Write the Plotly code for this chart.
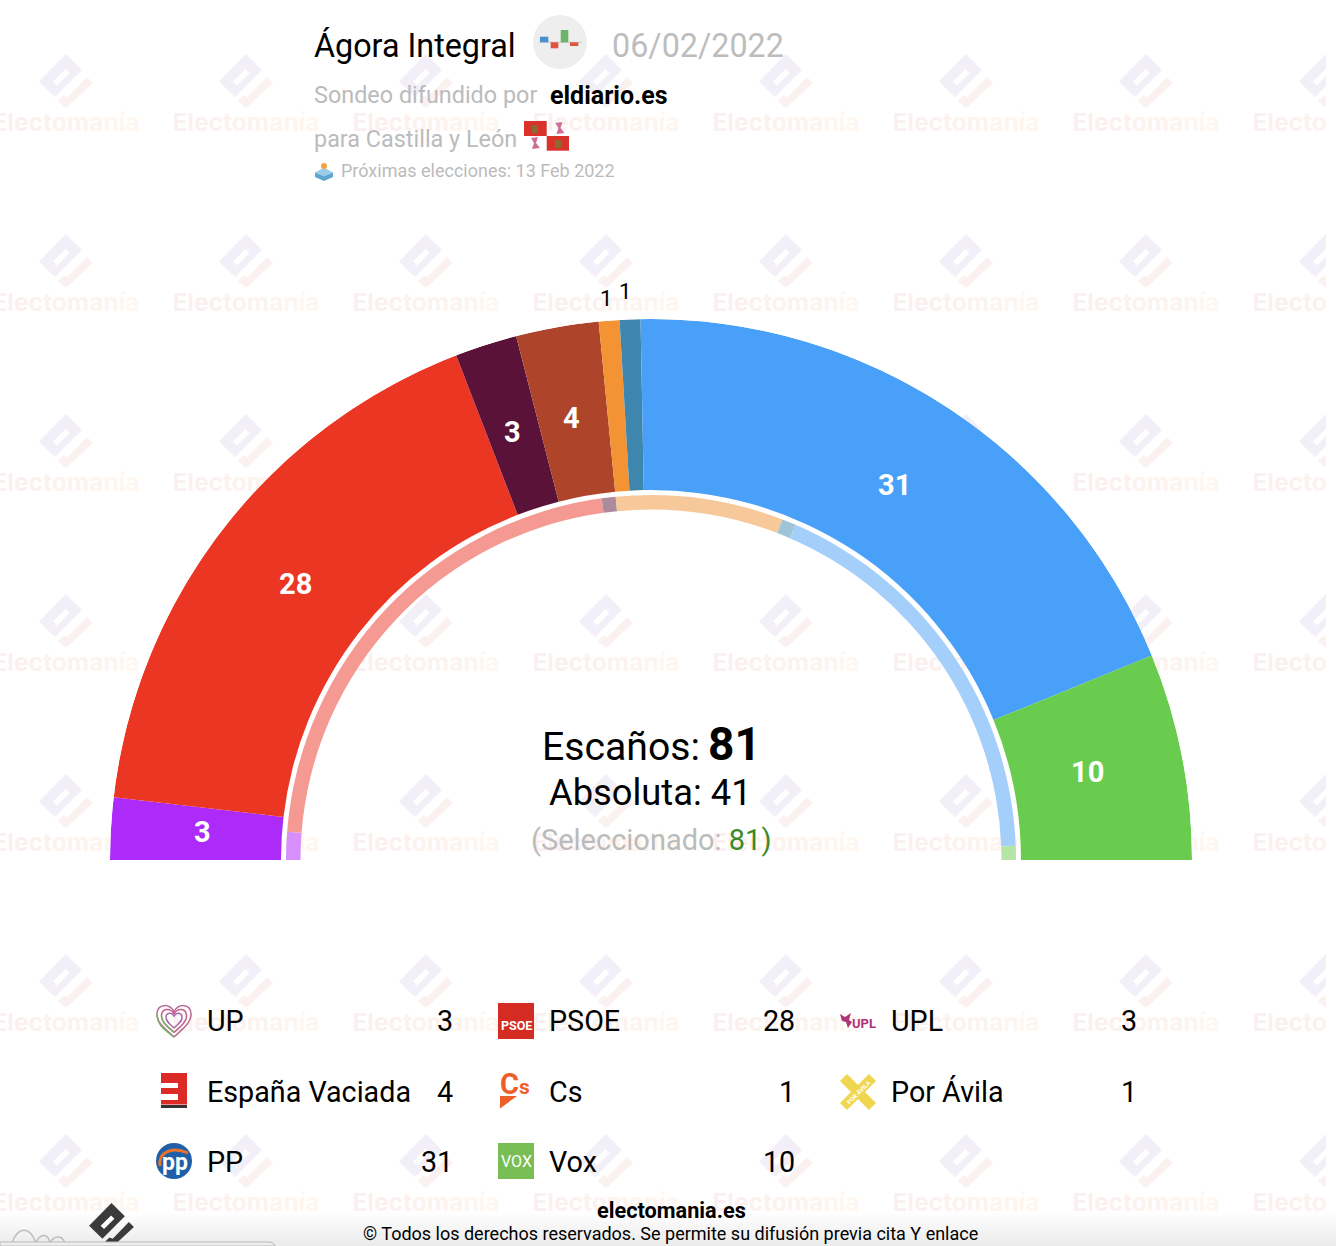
from __future__ import annotations

import numpy as np
import plotly.graph_objects as go

WIDTH = 1336
HEIGHT = 1246
PLOT_RIGHT = 1326
CENTER_X = 651
BASE_Y = 860
OUTER_R = 541
FONT = "Roboto"

PARTIES = ["UP", "PSOE", "UPL", "España Vaciada", "Cs", "Por Ávila", "PP", "Vox"]
SEATS = [3, 28, 3, 4, 1, 1, 31, 10]
PREVIOUS_SEATS = [2, 35, 1, 0, 12, 1, 29, 1]
COLORS = ["#AC2BF8", "#EC3624", "#5A1238", "#AE452B", "#F39333", "#3E86AE", "#48A0F8", "#69CC4E"]
RING_COLORS = ["#D68FFB", "#F49A92", "#AD8A9C", "#D6A295", "#F7C99A", "#9FC3D7", "#A4CFFB", "#B4E5A6"]

LEGEND_NAMES = ["UP", "PSOE", "UPL", "España Vaciada", "Cs", "Por Ávila", "PP", "Vox"]
LEGEND_SEATS = [3, 28, 3, 4, 1, 1, 31, 10]

WATERMARK_COLORS = [
    "#FBF0F1", "#FBF0F0", "#FBF0EF", "#FBF1EF", "#FCF1EF", "#FCF2EF",
    "#FCF3EF", "#FDF4EF", "#FDF5EF", "#FEF6EF", "#FEF7EF",
]
GREY = "#BBBBBB"


def arc_layout(values):
    values = np.array(values, dtype=float)
    scale = 180 / values.sum()
    starts = np.concatenate([[0], np.cumsum(values)[:-1]])
    return (starts + values / 2) * scale, values * scale


def poly(points):
    return "M" + " L".join(f"{x:.1f},{y:.1f}" for x, y in points) + " Z"


def filled(path, color, layer="above"):
    return dict(type="path", xref="x", yref="y", path=path, fillcolor=color,
                line=dict(width=0), layer=layer)


def block(x0, y0, x1, y1, color, layer="above"):
    return dict(type="rect", xref="x", yref="y", x0=x0, y0=y0, x1=x1, y1=y1,
                fillcolor=color, line=dict(width=0), layer=layer)


def logo_shapes(cx, top, scale, body, check, slot, layer):
    def pts(items):
        return [(cx + (x - 66) * scale, top + (y - 54) * scale) for x, y in items]

    return [
        filled(poly(pts([(66, 54), (82, 70), (55, 97), (39, 81.5)])), body, layer),
        filled(poly(pts([(53, 81.5), (65.5, 69), (69.5, 73), (57, 85.5)])), slot, layer),
        filled(poly(pts([(58, 101), (63.5, 95.5), (67.5, 97), (87, 77), (93, 83), (66, 108)])), check, layer),
    ]


def heart_path(cx, cy, size):
    s = size
    return (
        f"M{cx},{cy + s} C{cx - s * 0.6},{cy + s * 0.45} {cx - s * 1.05},{cy + s * 0.1} {cx - s * 1.0},{cy - s * 0.4} "
        f"C{cx - s * 0.95},{cy - s * 0.95} {cx - s * 0.3},{cy - s * 1.0} {cx},{cy - s * 0.5} "
        f"C{cx + s * 0.3},{cy - s * 1.0} {cx + s * 0.95},{cy - s * 0.95} {cx + s * 1.0},{cy - s * 0.4} "
        f"C{cx + s * 1.05},{cy + s * 0.1} {cx + s * 0.6},{cy + s * 0.45} {cx},{cy + s}"
    )


def label(x, y, text, size, color="#000000", anchor="left", **extra):
    return dict(xref="x", yref="y", x=x, y=y, text=text, showarrow=False, xanchor=anchor,
                yanchor="middle", borderpad=0,
                font=dict(family=FONT, size=size, color=color), **extra)


def arc_point(angle_deg, radius):
    angle = np.radians(angle_deg)
    return CENTER_X - radius * np.cos(angle), BASE_Y - radius * np.sin(angle)


fig = go.Figure()

# watermark sits in the cartesian layer so the hemicycle paints over it
water_x = [66 + 180 * i for i in range(8)]
water_y = [122 + 180 * i for i in range(7)]
water_text = "".join(
    f"<span style='color:{c}'>{ch}</span>" for ch, c in zip("Electomanía", WATERMARK_COLORS)
)
grid_x = [x for _ in water_y for x in water_x]
grid_y = [y + 3 for y in water_y for _ in water_x]
fig.add_trace(go.Scatter(
    x=grid_x, y=grid_y, mode="text", text=[f"<b>{water_text}</b>"] * len(grid_x),
    textposition="middle center", textfont=dict(family="Inter", size=24.5, color="#FCF1EF"),
    hoverinfo="skip", showlegend=False, cliponaxis=True,
))

theta, width = arc_layout(SEATS)
fig.add_trace(go.Barpolar(
    theta=theta, width=width, base=370, r=[OUTER_R - 370] * len(SEATS),
    marker=dict(color=COLORS, line=dict(width=0)), hoverinfo="skip", showlegend=False,
))

prev = [(v, c) for v, c in zip(PREVIOUS_SEATS, RING_COLORS)]
ring_theta, ring_width = arc_layout([v for v, _ in prev])
keep = [i for i, (v, _) in enumerate(prev) if v > 0]
fig.add_trace(go.Barpolar(
    theta=ring_theta[keep], width=ring_width[keep], base=350.5, r=[14.5] * len(keep),
    marker=dict(color=[prev[i][1] for i in keep], line=dict(width=0)),
    hoverinfo="skip", showlegend=False,
))

shapes = []
for x in water_x:
    for y in water_y:
        shapes += logo_shapes(x, y - 68, 1.0, "#F2EFF8", "#FBF1F1", "#FFFFFF", "below")

# bottom fade of the screenshot
for i in range(20):
    shapes.append(dict(type="rect", xref="paper", yref="y", x0=0, x1=1, y0=1212 + i * 1.7, y1=1246,
                       fillcolor="rgba(0,0,0,0.003)", line=dict(width=0), layer="below"))
shapes += logo_shapes(111.5, 1203, 0.83, "#3A3A3A", "#3A3A3A", "#FFFFFF", "above")
for path in ["M12,1243 C18,1226 30,1226 36,1243", "M36,1243 C40,1233 48,1233 50,1243", "M50,1243 C54,1235 62,1235 65,1243"]:
    shapes.append(dict(type="path", xref="x", yref="y", path=path, line=dict(color="#BDBDBD", width=1.5)))
shapes.append(dict(type="path", xref="x", yref="y", path="M0,1242 L268,1242 Q274,1242 275,1246 L0,1246 Z",
                   fillcolor="#EFEFEF", line=dict(color="#B8B8B8", width=1)))

# header icons
shapes.append(dict(type="circle", xref="x", yref="y", x0=533, y0=15, x1=587, y1=69,
                   fillcolor="#EEEEEE", line=dict(width=0)))
shapes.append(dict(type="line", xref="x", yref="y", x0=539, x1=582, y0=42.3, y1=42.3,
                   line=dict(color="#C9C9C9", width=1)))
shapes += [
    block(540, 36.7, 548.3, 42.3, "#4A90D0"),
    block(550.7, 42.3, 558.3, 48.3, "#E0533E"),
    block(560.7, 30, 568.3, 42.3, "#6DB56D"),
    block(570, 42.3, 578.3, 46, "#E0533E"),
]
shapes += [
    block(524, 121, 546.7, 136, "#D9322B"),
    block(546.7, 136, 569, 150.7, "#D9322B"),
    block(532, 125, 538, 133, "#8A6A30"),
    block(555, 140, 561, 148, "#8A6A30"),
]
for lx, ly in [(559.5, 128), (535, 143)]:
    shapes.append(dict(type="path", xref="x", yref="y",
                       path=poly([(lx - 4, ly - 5), (lx + 3, ly - 6), (lx + 1, ly), (lx + 5, ly + 5), (lx - 3, ly + 6), (lx - 1, ly)]),
                       fillcolor="#CE6E96", line=dict(width=0)))
shapes += [
    filled(poly([(315, 172.7), (324, 168), (333, 172.7), (333, 177), (324, 181), (315, 177)]), "#5AA6D0"),
    filled(poly([(315, 172.7), (324, 168), (333, 172.7), (324, 176.5)]), "#9CCDE6"),
    dict(type="circle", xref="x", yref="y", x0=321, y0=163, x1=327, y1=169, fillcolor="#F2A33C", line=dict(width=0)),
]

# party icons
for size, color_right in [(17, "#B96D94"), (12.5, "#C9608A"), (8, "#A56BAA")]:
    path = heart_path(174, 1020, size)
    shapes.append(dict(type="path", xref="x", yref="y", path=path, line=dict(color=color_right, width=1.5)))
shapes.append(dict(type="path", xref="x", yref="y",
                   path="M174,1037 C164,1029 157,1025 157,1014", line=dict(color="#7DAF6A", width=1.5)))
shapes.append(dict(type="path", xref="x", yref="y",
                   path="M174,1032 C168,1027 161.5,1023 161.5,1015", line=dict(color="#7DAF6A", width=1.5)))

shapes += [
    block(161, 1073, 187, 1104.5, "#DC2A27"),
    block(161, 1083, 178, 1088, "#FFFFFF"),
    block(161, 1094, 178, 1100, "#FFFFFF"),
    block(161, 1105, 187, 1108, "#333333"),
    block(498, 1003, 534, 1039, "#D42C22"),
    block(498, 1143, 534, 1179, "#78BE55"),
    filled(poly([(500, 1096), (517, 1096), (500, 1108.5)]), "#EC5F2B"),
    filled(poly([(840, 1014), (845, 1017), (851, 1013), (849, 1020), (852, 1022), (848, 1028), (846, 1022), (842, 1021)]), "#B0347A"),
    filled(poly([(840, 1081), (847, 1074), (876, 1103), (869, 1110)]), "#F0D64F"),
    filled(poly([(869, 1074), (876, 1081), (847, 1110), (840, 1103)]), "#F0D64F"),
    dict(type="circle", xref="x", yref="y", x0=156, y0=1143, x1=192, y1=1179, fillcolor="#1F5FA8", line=dict(width=0)),
    dict(type="path", xref="x", yref="y", path="M160,1166 C158,1152 172,1146 188,1153",
         line=dict(color="#E8742C", width=3)),
]

annotations = [
    label(312.5, 46, "Ágora Integral", 32.3),
    label(610.5, 46, "06/02/2022", 32.3, "#BDBDBD"),
    label(312.5, 94.5, "Sondeo difundido por", 23.4, GREY),
    label(548.5, 95.5, "<b>eldiario.es</b>", 25),
    label(312.5, 139, "para Castilla y León", 23.4, GREY),
    label(339.5, 170, "Próximas elecciones: 13 Feb 2022", 18, GREY),
    label(651, 743.5, "Escaños:\u2009<b style='font-size:46px'>81</b>", 39.2, anchor="center"),
    label(650.5, 792, "Absoluta: 41", 36.3, anchor="center"),
    label(651, 840, "(Seleccionado: <span style='color:#3A8A28'>81)</span>", 29, GREY, anchor="center"),
    label(671, 1210, "<b>electomania.es</b>", 21.7, anchor="center"),
    label(670, 1233, "© Todos los derechos reservados. Se permite su difusión previa cita Y enlace", 18, anchor="center"),
    label(516, 1025, "<b>PSOE</b>", 12.5, "#FFFFFF", anchor="center"),
    label(516, 1161, "VOX", 16, "#FFFFFF", anchor="center"),
    label(499, 1084, "<b>C<span style='font-size:21px'>s</span></b>", 29, "#EC5F2B"),
    label(851, 1023, "<b>UPL</b>", 13, "#B0347A"),
    label(175, 1162, "<b>pp</b>", 23, "#FFFFFF", anchor="center"),
    label(858, 1092, "<b>POR ÁVILA</b>", 6, "#FFFFFF", anchor="center", textangle=-45),
]

# seat counts: white inside the bars, the one-seat slices get theirs above the arc
for i in [i for i, s in enumerate(SEATS) if s > 1]:
    x, y = arc_point(theta[i], 447)
    annotations.append(label(x - 2, y - 2, f"<b>{SEATS[i]}</b>", 29, "#FFFFFF", anchor="center"))
for i, radius, nudge in zip([i for i, s in enumerate(SEATS) if s == 1], [563, 569], [-1, -4]):
    x, y = arc_point(theta[i], radius)
    annotations.append(label(x + nudge, y, str(SEATS[i]), 22, anchor="center"))

# legend runs across three columns
for i, (name, seats) in enumerate(zip(LEGEND_NAMES, LEGEND_SEATS)):
    col, row = i % 3, i // 3
    y = [1021, 1092, 1162][row]
    annotations.append(label(205.5 + 342 * col, y, name, 28.7))
    annotations.append(label(454 + 342 * col, y, str(seats), 28.7, anchor="right"))

fig.update_layout(
    width=WIDTH,
    height=HEIGHT,
    margin=dict(l=0, r=0, t=0, b=0),
    paper_bgcolor="#FFFFFF",
    plot_bgcolor="rgba(0,0,0,0)",
    showlegend=False,
    xaxis=dict(domain=[0, PLOT_RIGHT / WIDTH], range=[0, PLOT_RIGHT], visible=False, fixedrange=True),
    yaxis=dict(domain=[0, 1], range=[HEIGHT, 0], visible=False, fixedrange=True),
    polar=dict(
        domain=dict(
            x=[(CENTER_X - OUTER_R) / WIDTH, (CENTER_X + OUTER_R) / WIDTH],
            y=[(HEIGHT - BASE_Y) / HEIGHT, (HEIGHT - BASE_Y + OUTER_R) / HEIGHT],
        ),
        sector=[0, 180],
        hole=0,
        bgcolor="rgba(0,0,0,0)",
        barmode="overlay",
        radialaxis=dict(range=[0, OUTER_R], visible=False),
        angularaxis=dict(rotation=180, direction="clockwise", visible=False),
    ),
    shapes=shapes,
    annotations=annotations,
    font=dict(family=FONT),
)

# default page margin would push the figure 8px off the photographed area
fig.write_html(
    "out.html",
    config={"displayModeBar": False},
    post_script="document.body.style.margin='0';document.documentElement.style.overflow='hidden';",
)
